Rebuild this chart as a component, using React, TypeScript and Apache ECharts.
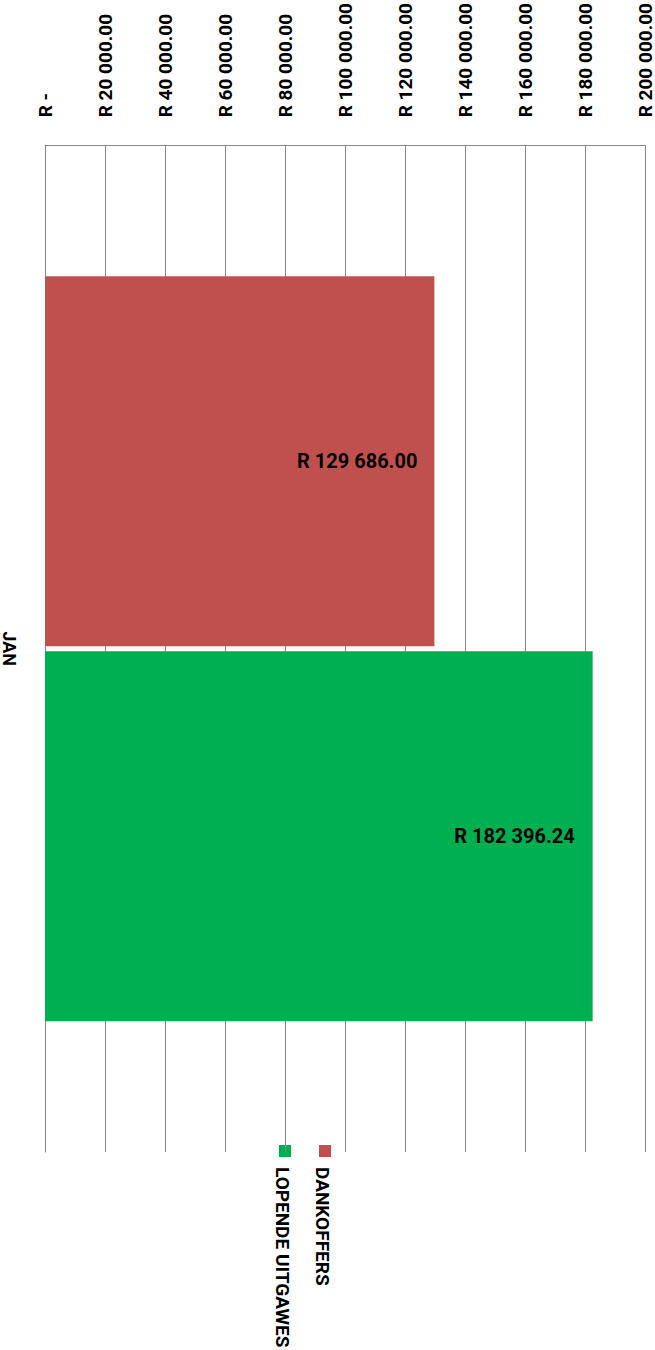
import React, { useEffect, useRef } from "react";
import * as echarts from "echarts";

const categories = ["JAN"];
const seriesNames = ["DANKOFFERS", "LOPENDE UITGAWES"];
const dankoffers = [129686.0];
const lopendeUitgawes = [182396.24];
const colors = ["#C0504D", "#00B050"];
const axisMax = 200000;
const axisInterval = 20000;

function fmtRand(v: number): string {
  if (v === 0) return "R -";
  const fixed = v.toFixed(2);
  const [intPart, dec] = fixed.split(".");
  const withSpaces = intPart.replace(/\B(?=(\d{3})+(?!\d))/g, " ");
  return "R " + withSpaces + "." + dec;
}

export default function App() {
  const ref = useRef<HTMLDivElement>(null);
  useEffect(() => {
    if (!ref.current) return;
    const chart = echarts.init(ref.current, undefined, { renderer: "svg" });
    const font = "Roboto, 'Liberation Sans', sans-serif";
    const legendItems = seriesNames.map((name, i) => {
      const x = i === 0 ? 325 : 285;
      return {
        type: "group",
        children: [
          {
            type: "rect",
            shape: { x: x - 6, y: 1145, width: 12, height: 12 },
            style: { fill: colors[i] },
          },
          {
            type: "text",
            x: x - 3,
            y: 1167,
            rotation: -Math.PI / 2,
            style: {
              text: name,
              fill: "#000",
              font: `bold 19px ${font}`,
              textAlign: "left",
              textVerticalAlign: "middle",
            },
          },
        ],
      };
    });
    chart.setOption({
      animation: false,
      grid: { left: 45, right: 9, top: 141, bottom: 198, containLabel: false },
      xAxis: {
        type: "value",
        position: "top",
        min: 0,
        max: axisMax,
        interval: axisInterval,
        axisLine: { show: true, lineStyle: { color: "#888", width: 1 } },
        axisTick: { show: false },
        splitLine: { show: true, lineStyle: { color: "#888", width: 1 } },
        axisLabel: {
          rotate: -90,
          margin: 28,
          fontSize: 19,
          fontWeight: "bold",
          fontFamily: font,
          color: "#000",
          formatter: (v: number) => (v === 0 ? "{z|" + fmtRand(v) + "}" : fmtRand(v)),
          rich: {
            z: {
              fontSize: 19,
              fontWeight: "bold",
              fontFamily: font,
              color: "#000",
              padding: [0, 9, 0, 0],
            },
          },
        },
      },
      yAxis: {
        type: "category",
        data: categories,
        inverse: true,
        axisLine: { show: true, lineStyle: { color: "#888", width: 1 } },
        axisTick: { show: false },
        axisLabel: {
          rotate: -90,
          margin: 27,
          fontSize: 18,
          fontWeight: "bold",
          fontFamily: font,
          color: "#000",
        },
      },
      series: [
        {
          name: seriesNames[0],
          type: "bar",
          data: dankoffers,
          itemStyle: { color: colors[0] },
          barCategoryGap: "26%",
          barGap: "1.35%",
          label: {
            show: true,
            position: "insideRight",
            distance: 17,
            fontSize: 20,
            fontWeight: "bold",
            fontFamily: font,
            color: "#000",
            formatter: (p: any) => fmtRand(p.value),
          },
        },
        {
          name: seriesNames[1],
          type: "bar",
          data: lopendeUitgawes,
          itemStyle: { color: colors[1] },
          barCategoryGap: "26%",
          barGap: "1.35%",
          label: {
            show: true,
            position: "insideRight",
            distance: 18,
            fontSize: 20,
            fontWeight: "bold",
            fontFamily: font,
            color: "#000",
            formatter: (p: any) => fmtRand(p.value),
          },
        },
      ],
      graphic: legendItems,
    });
    return () => chart.dispose();
  }, []);
  return <div ref={ref} style={{ width: 655, height: 1350, position: "absolute", left: 0, top: 0 }} />;
}
